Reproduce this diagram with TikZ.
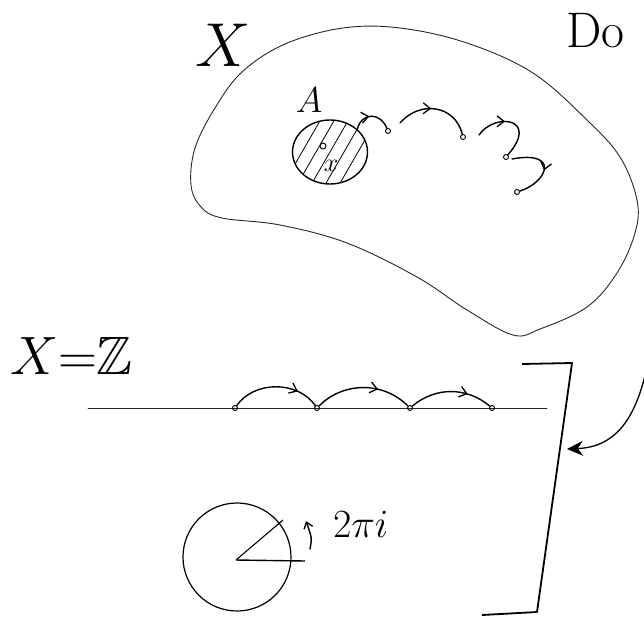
\RequirePackage{fix-cm}
\documentclass[tikz,border=0pt]{standalone}
\usepackage{amssymb}
\usetikzlibrary{arrows.meta,decorations.markings,shapes.geometric}
\begin{document}
\begin{tikzpicture}[x=1pt,y=-1pt,
  sk/.style={line width=0.9pt, black!85, line cap=round, line join=round},
  pen/.style={line width=1.4pt, black, line cap=round, line join=round},
  ptdot/.style={circle, draw, line width=0.9pt, inner sep=0pt, minimum size=5pt},
  midarrow/.style={postaction={decorate}, decoration={markings, mark=at position #1 with {\arrow{Straight Barb[length=7pt,width=11pt,line width=1.3pt]}}}},
  lbl/.style={inner sep=0pt, outer sep=0pt},
]
\useasboundingbox (0,0) rectangle (644,629);

% labels
\node[lbl] (Xlab) at (223,45) {\fontsize{62}{62}\selectfont $X$};
\node[lbl, anchor=base west] (Dolab) at (566,47) {\fontsize{50}{50}\selectfont Do};
\node[lbl] (Alab) at (309,100) {\fontsize{36}{36}\selectfont $A$};
\node[lbl, anchor=west] (XZlab) at (10,356) {\fontsize{54}{54}\selectfont $X{=}\mathbb{Z}$};
\node[lbl, anchor=west] (pilab) at (333,524) {\fontsize{40}{40}\selectfont $2\pi i$};

% blob
\draw[sk] plot[smooth cycle, tension=0.6] coordinates {
 (343,28) (400,28) (467,43) (533,73) (587,120) (620,157) (637,200) (635,233)
 (617,273) (587,307) (540,329) (513,335) (467,310) (417,277) (347,243)
 (280,225) (222,218) (201,207) (191,185) (195,148) (215,108) (242,72) (285,44)};

% hatched set A
\begin{scope}
  \clip (330,152) ellipse [x radius=37, y radius=32];
  \foreach \k in {-70,-56,...,70}
    \draw[line width=0.8pt] (330+\k-30,152+52) -- (330+\k+30,152-52);
\end{scope}
\node[ellipse, draw, line width=1.4pt, minimum width=75pt, minimum height=64pt, inner sep=0pt] (Acirc) at (330,152) {};
\node[ptdot, minimum size=6pt] (x0) at (323,146) {};
\node[lbl] (xlab) at (331,166) {\fontsize{26}{26}\selectfont $x$};

% orbit in X
\node[ptdot] (b1) at (388,131) {};
\node[ptdot] (b2) at (463,137) {};
\node[ptdot] (b3) at (506,157) {};
\node[ptdot] (b4) at (517,192) {};
\draw[pen, midarrow=0.45] (Acirc.40) .. controls (362,112) and (380,112) .. (b1);
\draw[pen, midarrow=0.45] (b1) ++(12,-8) .. controls (420,100) and (455,105) .. (b2);
\draw[pen, midarrow=0.4] (b2) ++(16,-2) .. controls (495,112) and (540,118) .. (b3);
\draw[pen, midarrow=0.55] (b3) ++(6,2) .. controls (560,150) and (548,182) .. (b4);

% number line
\coordinate (nl0) at (88,408);
\coordinate (nl1) at (547,408);
\draw[sk] (nl0) -- (nl1);
\node[ptdot] (d1) at (235,408) {};
\node[ptdot] (d2) at (317,408) {};
\node[ptdot] (d3) at (410,408) {};
\node[ptdot] (d4) at (492,408) {};
\draw[pen, midarrow=0.75] (d1) to[bend left=55] (d2);
\draw[pen, midarrow=0.65] (d2) to[bend left=45] (d3);
\draw[pen, midarrow=0.7] (d3) to[bend left=40] (d4);

% bracket
\coordinate (br1) at (482,615);
\coordinate (br2) at (537,612);
\coordinate (br3) at (572,363);
\coordinate (br4) at (522,364);
\draw[line width=1.8pt, line join=round] (br1) -- (br2) -- (br3) -- (br4);

% big arrow
\coordinate (rin) at (652,335);
\coordinate (btip) at (567,449);
\draw[line width=1.3pt, -{Stealth[length=16pt,width=15pt]}] (rin) .. controls (642,420) and (615,447) .. (btip);

% circle with angle
\node[circle, draw, line width=1.2pt, minimum size=108pt, inner sep=0pt] (C) at (237,557) {};
\coordinate (O) at (236,560);
\coordinate (rad) at (283,520);
\coordinate (hor) at (305,561);
\draw[line width=1.1pt] (O) -- (rad);
\draw[line width=1.4pt] (O) -- (hor);
\coordinate (ra0) at (310,549);
\coordinate (ra1) at (306,521);
\draw[pen, -{Straight Barb[length=6pt,width=9pt]}] (ra0) .. controls (312,538) .. (ra1);
\end{tikzpicture}
\end{document}
